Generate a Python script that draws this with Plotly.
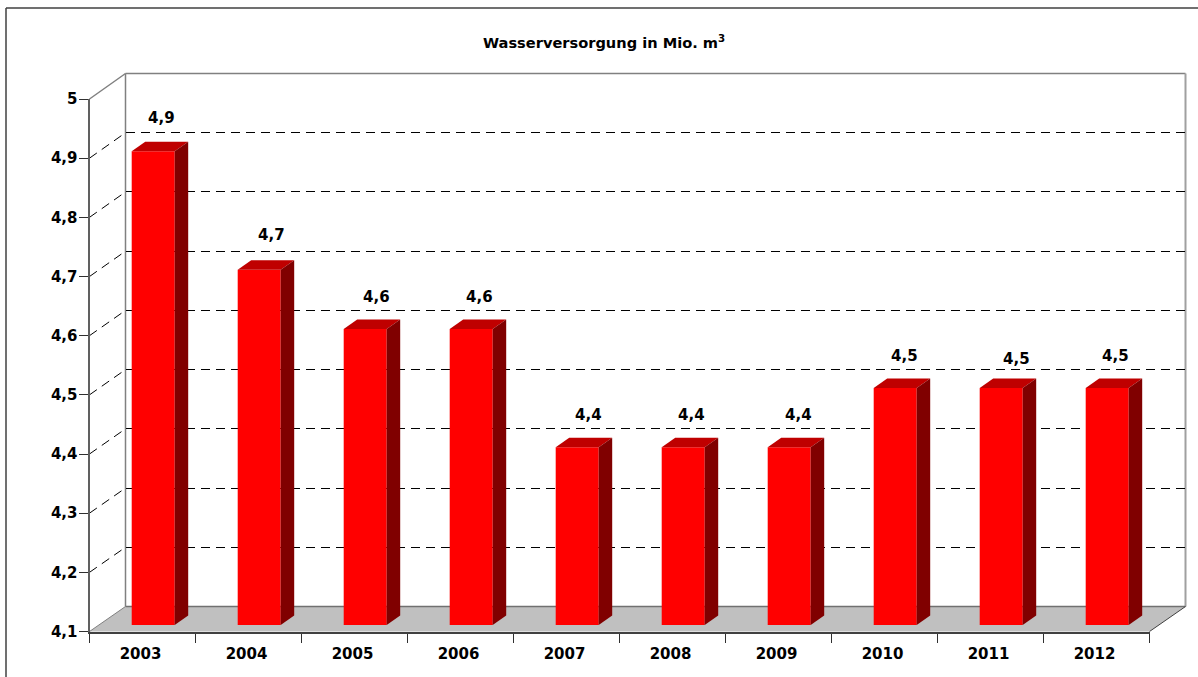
import plotly.graph_objects as go

W, H = 1198, 677

# ---- data ----
years = ["2003", "2004", "2005", "2006", "2007", "2008", "2009", "2010", "2011", "2012"]
water_supply = [4.9, 4.7, 4.6, 4.6, 4.4, 4.4, 4.4, 4.5, 4.5, 4.5]
value_labels = ["4,9", "4,7", "4,6", "4,6", "4,4", "4,4", "4,4", "4,5", "4,5", "4,5"]
y_ticks = [4.1, 4.2, 4.3, 4.4, 4.5, 4.6, 4.7, 4.8, 4.9, 5.0]
y_tick_labels = ["4,1", "4,2", "4,3", "4,4", "4,5", "4,6", "4,7", "4,8", "4,9", "5"]
title_text = "<b>Wasserversorgung in Mio. m<sup>3</sup></b>"

# ---- layout helpers (styles / geometry of the pseudo-3D box) ----
FONT = "DejaVu Sans, Verdana, sans-serif"
label_dx = [8, 12, 11, 8, 11, 8, 9, 9, 15, 8]
label_dy = [-1, 1, -2, -2, -2, -2, -2, -2, -5, -2]

def fx(px): return px / W
def fy(py): return 1 - py / H

FRONT = (89.5, 1149.5, 631.5, 99.0)
BACK = (125.5, 1185.5, 606.5, 73.5)
BARS = (100.2, 1160.2, 625.0, 92.0)

def x_dom(p): return [fx(p[0]), fx(p[1])]
def y_dom(p): return [fy(p[2]), fy(p[3])]

y_rng = [4.1, 5.0]
x_rng = [-0.5, 9.5]
units_per_px_x = (x_rng[1] - x_rng[0]) / (BARS[1] - BARS[0])
units_per_px_y = (y_rng[1] - y_rng[0]) / (BARS[2] - BARS[3])
bar_w = 43 * units_per_px_x
dx = 13.5 * units_per_px_x
dy = 9.5 * units_per_px_y

fig = go.Figure()

fig.add_trace(go.Scatter(x=[None], y=[None], xaxis="x", yaxis="y", showlegend=False, hoverinfo="skip"))
fig.add_trace(go.Bar(x=years, y=[None] * len(years), xaxis="x2", yaxis="y2", showlegend=False, hoverinfo="skip"))

fig.add_trace(go.Bar(
    x=list(range(len(years))), y=water_supply, width=bar_w, xaxis="x3", yaxis="y3",
    marker=dict(color="#FF0000", line=dict(width=0)), showlegend=False,
    customdata=years, hovertemplate="%{customdata}: %{y}<extra></extra>",
))
for i, v in enumerate(water_supply):
    l, r = i - bar_w / 2, i + bar_w / 2
    fig.add_trace(go.Scatter(
        x=[l, r, r + dx, l + dx, l], y=[v, v, v + dy, v + dy, v], xaxis="x3", yaxis="y3",
        mode="lines", fill="toself", fillcolor="#BF0000", line=dict(width=0),
        showlegend=False, hoverinfo="skip"))
    fig.add_trace(go.Scatter(
        x=[r, r + dx, r + dx, r, r], y=[y_rng[0], y_rng[0] + dy, v + dy, v, y_rng[0]], xaxis="x3", yaxis="y3",
        mode="lines", fill="toself", fillcolor="#800000", line=dict(width=0),
        showlegend=False, hoverinfo="skip"))

annotations = [
    dict(x=i, y=v, xref="x3", yref="y3", text=f"<b>{t}</b>", showarrow=False,
         xshift=label_dx[i], yshift=34 + label_dy[i],
         font=dict(family=FONT, size=15, color="#000000"))
    for i, (v, t) in enumerate(zip(water_supply, value_labels))
]
annotations.append(dict(x=fx(604), y=fy(42), xref="paper", yref="paper", text=title_text,
                        xanchor="center", yanchor="middle",
                        showarrow=False, font=dict(family=FONT, size=14.6, color="#000000")))

def pline(x0, y0, x1, y1, **line):
    return dict(type="line", xref="paper", yref="paper", x0=fx(x0), y0=fy(y0), x1=fx(x1), y1=fy(y1),
                layer="below", line=line)

shapes = [
    dict(type="path", xref="paper", yref="paper", layer="below", fillcolor="#C0C0C0", line=dict(width=0),
         path=f"M {fx(FRONT[0])} {fy(FRONT[2])} L {fx(BACK[0])} {fy(BACK[2])} "
              f"L {fx(BACK[1])} {fy(BACK[2])} L {fx(FRONT[1])} {fy(FRONT[2])} Z"),
    pline(6, 8, 1198, 8, color="#404040", width=1.5),
    pline(6, 8, 6, 677, color="#404040", width=1.5),
    pline(FRONT[0], FRONT[3], BACK[0], BACK[3], color="#808080", width=1.5),
    pline(FRONT[0], FRONT[2], BACK[0], BACK[2], color="#808080", width=1),
    pline(BACK[0], BACK[3], BACK[1], BACK[3], color="#808080", width=1.5),
    pline(BACK[0], BACK[3], BACK[0], BACK[2], color="#808080", width=1.5),
    pline(BACK[1], BACK[3], BACK[1], BACK[2], color="#A0A0A0", width=2),
    pline(BACK[0], BACK[2], BACK[1], BACK[2], color="#707070", width=1.5),
    pline(FRONT[1], FRONT[2], BACK[1], BACK[2], color="#404040", width=1),
]
for t in y_ticks[1:-1]:
    frac = (t - y_rng[0]) / (y_rng[1] - y_rng[0])
    y0 = FRONT[2] + frac * (FRONT[3] - FRONT[2])
    y1 = BACK[2] + frac * (BACK[3] - BACK[2])
    shapes.append(pline(FRONT[0], y0, BACK[0], y1, color="#000000", width=1, dash="9px,6px"))

axis_font = dict(family=FONT, size=15, color="#000000", weight="bold")

fig.update_layout(
    template="none",
    width=W, height=H, autosize=False,
    margin=dict(l=0, r=0, t=0, b=0, pad=0),
    paper_bgcolor="#FFFFFF", plot_bgcolor="rgba(0,0,0,0)",
    showlegend=False, barmode="overlay",
    shapes=shapes, annotations=annotations,
    xaxis=dict(domain=x_dom(BACK), range=x_rng, anchor="y", visible=False, fixedrange=True, automargin=False),
    yaxis=dict(domain=y_dom(BACK), range=y_rng, anchor="x", tickvals=y_ticks[1:-1], ticks="",
               showticklabels=False, showline=False, zeroline=False, showgrid=True,
               gridcolor="#000000", gridwidth=1, griddash="9px,6px", fixedrange=True, automargin=False),
    xaxis2=dict(domain=x_dom(FRONT), type="category", categoryorder="array", categoryarray=years,
                range=x_rng, anchor="y2", tickson="boundaries", ticks="outside", ticklen=9, tickwidth=1,
                ticklabelstandoff=7, ticklabelshift=-2,
                tickcolor="#303030", showline=True, linecolor="#404040", linewidth=2, showgrid=False,
                tickfont=axis_font, fixedrange=True, automargin=False),
    yaxis2=dict(domain=y_dom(FRONT), range=y_rng, anchor="x2", tickvals=y_ticks, ticktext=y_tick_labels,
                ticks="outside", ticklen=9, tickwidth=1, tickcolor="#303030", showline=True,
                ticklabelstandoff=-2,
                linecolor="#606060", linewidth=2, showgrid=False, zeroline=False,
                tickfont=axis_font, fixedrange=True, automargin=False),
    xaxis3=dict(domain=x_dom(BARS), range=x_rng, anchor="y3", visible=False, fixedrange=True, automargin=False),
    yaxis3=dict(domain=y_dom(BARS), range=y_rng, anchor="x3", visible=False, fixedrange=True, automargin=False),
)

fig.write_html("out.html", config={"displayModeBar": False, "responsive": False},
               post_script="document.body.style.margin='0';")
